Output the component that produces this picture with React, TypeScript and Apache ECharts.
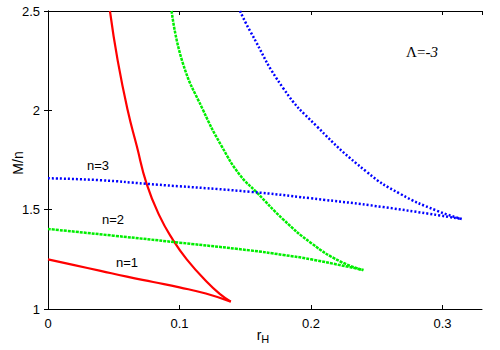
import React, { useEffect, useRef } from "react";
import * as echarts from "echarts";

const redLowerR = [0, 0.02, 0.04, 0.06, 0.08, 0.1, 0.12, 0.139];
const redLowerM = [1.25, 1.221, 1.192, 1.163, 1.136, 1.109, 1.078, 1.037];
const redUpperR = [0.0471, 0.053, 0.0606, 0.0675, 0.075, 0.0847, 0.0953, 0.1055, 0.1207, 0.1308, 0.139];
const redUpperM = [2.5, 2.25, 2.0, 1.82, 1.63, 1.47, 1.345, 1.25, 1.137, 1.075, 1.037];

const greenLowerR = [0, 0.05, 0.1, 0.1536, 0.179, 0.2, 0.2398];
const greenLowerM = [1.403, 1.369, 1.334, 1.295, 1.272, 1.25, 1.196];
const greenUpperR = [0.094, 0.1024, 0.118, 0.132, 0.146, 0.159, 0.179, 0.2005, 0.222, 0.2398];
const greenUpperM = [2.5, 2.24, 2.0, 1.82, 1.674, 1.585, 1.45, 1.33, 1.24, 1.196];

const blueLowerR = [0, 0.0406, 0.075, 0.1536, 0.2, 0.255, 0.3146];
const blueLowerM = [1.658, 1.648, 1.63, 1.59, 1.557, 1.513, 1.453];
const blueUpperR = [0.146, 0.1536, 0.179, 0.2043, 0.2424, 0.2677, 0.2956, 0.3146];
const blueUpperM = [2.5, 2.4, 2.11, 1.92, 1.69, 1.58, 1.495, 1.453];

const xTicks = [0, 0.1, 0.2, 0.3];
const yTicks = [1, 1.5, 2, 2.5];

const pairs = (xs: number[], ys: number[]) => xs.map((x, i) => [x, ys[i]]);

const mk = (name: string, xs: number[], ys: number[], color: string, type: any, width: number) => ({
  name,
  type: "line",
  data: pairs(xs, ys),
  showSymbol: false,
  smooth: 0.5,
  lineStyle: { color, width, type },
  silent: true,
});

export default function App() {
  const ref = useRef<HTMLDivElement>(null);
  useEffect(() => {
    if (!ref.current) return;
    const chart = echarts.init(ref.current, null, { renderer: "svg" });
    const labelFont = { fontFamily: "Liberation Sans", fontSize: 13, color: "#000" };
    const baseAxis = {
      axisLine: { lineStyle: { color: "#000", width: 1 } },
      axisTick: { inside: true, length: 4, lineStyle: { color: "#000" } },
      splitLine: { show: false },
    };
    chart.setOption({
      animation: false,
      backgroundColor: "#fff",
      grid: { left: 48, right: 18, top: 11, bottom: 41 },
      xAxis: [
        {
          ...baseAxis,
          type: "value",
          min: 0,
          max: 0.33,
          interval: 0.1,
          axisLabel: {
            ...labelFont,
            margin: 8,
            showMaxLabel: false,
            formatter: (v: number) => {
              const t = xTicks.find((k) => Math.abs(k - v) < 1e-6);
              return t === undefined ? "" : String(t);
            },
          },
        },
        {
          ...baseAxis,
          type: "value",
          position: "top",
          min: 0,
          max: 0.33,
          interval: 0.1,
          axisLabel: { show: false },
        },
      ],
      yAxis: [
        {
          ...baseAxis,
          type: "value",
          min: 1,
          max: 2.5,
          interval: 0.5,
          axisLabel: {
            ...labelFont,
            margin: 8,
            formatter: (v: number) => {
              const t = yTicks.find((k) => Math.abs(k - v) < 1e-6);
              return t === undefined ? "" : String(t);
            },
          },
        },
        {
          ...baseAxis,
          type: "value",
          position: "right",
          min: 1,
          max: 2.5,
          interval: 0.5,
          axisLabel: { show: false },
        },
      ],
      series: [
        mk("n1a", redLowerR, redLowerM, "#ff0000", "solid", 2.2),
        mk("n1b", redUpperR, redUpperM, "#ff0000", "solid", 2.2),
        mk("n2a", greenLowerR, greenLowerM, "#00ee00", [3, 1], 2.5),
        mk("n2b", greenUpperR, greenUpperM, "#00ee00", [3, 1], 2.5),
        mk("n3a", blueLowerR, blueLowerM, "#0000ff", [2, 2], 2.5),
        mk("n3b", blueUpperR, blueUpperM, "#0000ff", [2, 2], 2.5),
      ],
      graphic: [
        { type: "text", x: 127, y: 262, style: { text: "n=1", font: "13px 'Liberation Sans'", fill: "#000", align: "center", verticalAlign: "middle" } },
        { type: "text", x: 113, y: 219, style: { text: "n=2", font: "13px 'Liberation Sans'", fill: "#000", align: "center", verticalAlign: "middle" } },
        { type: "text", x: 98, y: 165, style: { text: "n=3", font: "13px 'Liberation Sans'", fill: "#000", align: "center", verticalAlign: "middle" } },
        {
          type: "text",
          x: 422,
          y: 52,
          style: {
            text: "{a|Λ=}{b|-3}",
            align: "center",
            verticalAlign: "middle",
            rich: {
              a: { fontFamily: "Liberation Serif", fontSize: 15, fill: "#000" },
              b: { fontFamily: "Liberation Serif", fontSize: 15, fontStyle: "italic", fill: "#000" },
            },
          },
        },
        {
          type: "text",
          x: 18,
          y: 163,
          rotation: Math.PI / 2,
          style: { text: "M/n", font: "14px 'Liberation Sans'", fill: "#000", align: "center", verticalAlign: "middle" },
        },
        {
          type: "text",
          x: 263,
          y: 335,
          style: {
            text: "{a|r}{b|H}",
            align: "center",
            verticalAlign: "middle",
            rich: {
              a: { fontFamily: "Liberation Sans", fontSize: 14, fill: "#000" },
              b: { fontFamily: "Liberation Sans", fontSize: 11, fill: "#000", padding: [8, 0, 0, 0] },
            },
          },
        },
      ],
    });
    return () => chart.dispose();
  }, []);
  return <div ref={ref} style={{ width: 500, height: 350, position: "absolute", left: 0, top: 0 }} />;
}
